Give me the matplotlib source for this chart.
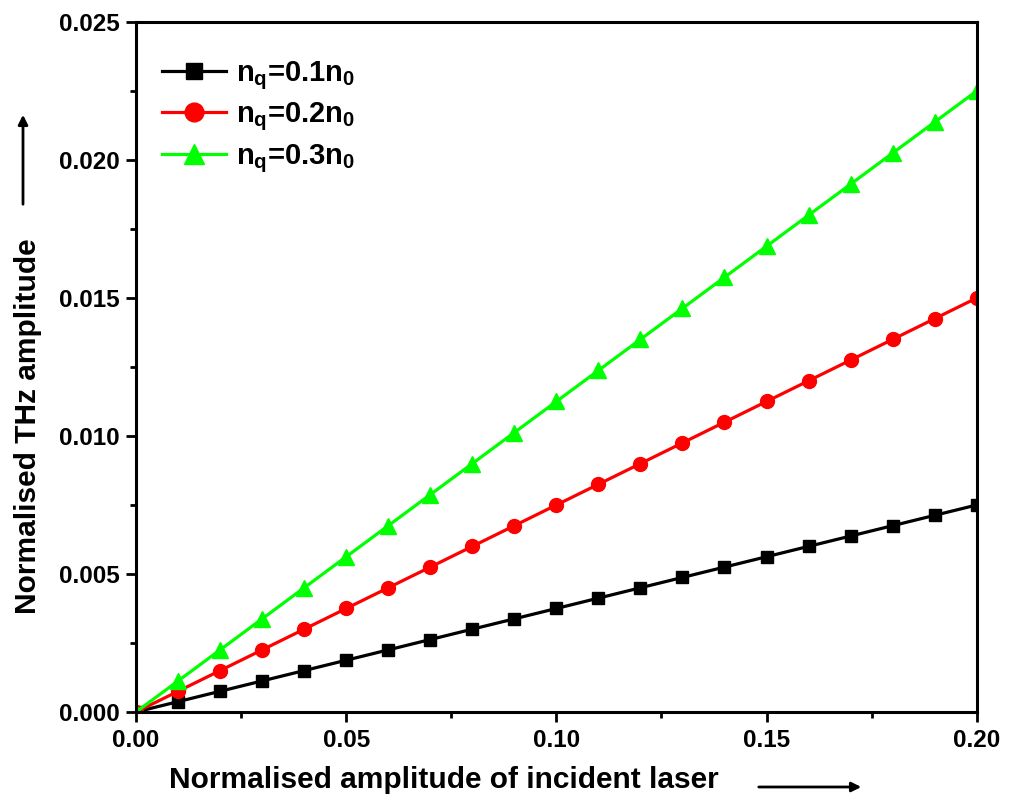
import matplotlib
matplotlib.use("Agg")
import matplotlib.pyplot as plt

# ---- data ----
x = [0.00, 0.01, 0.02, 0.03, 0.04, 0.05, 0.06, 0.07, 0.08, 0.09, 0.10,
     0.11, 0.12, 0.13, 0.14, 0.15, 0.16, 0.17, 0.18, 0.19, 0.20]
y_01 = [0.0, 0.000375, 0.00075, 0.001125, 0.0015, 0.001875, 0.00225, 0.002625,
        0.003, 0.003375, 0.00375, 0.004125, 0.0045, 0.004875, 0.00525, 0.005625,
        0.006, 0.006375, 0.00675, 0.007125, 0.0075]
y_02 = [0.0, 0.00075, 0.0015, 0.00225, 0.003, 0.00375, 0.0045, 0.00525,
        0.006, 0.00675, 0.0075, 0.00825, 0.009, 0.00975, 0.0105, 0.01125,
        0.012, 0.01275, 0.0135, 0.01425, 0.015]
y_03 = [0.0, 0.001125, 0.00225, 0.003375, 0.0045, 0.005625, 0.00675, 0.007875,
        0.009, 0.010125, 0.01125, 0.012375, 0.0135, 0.014625, 0.01575, 0.016875,
        0.018, 0.019125, 0.02025, 0.021375, 0.0225]
labels = [r"$n_q$=0.1$n_0$", r"$n_q$=0.2$n_0$", r"$n_q$=0.3$n_0$"]
x_ticks = [0.00, 0.05, 0.10, 0.15, 0.20]
y_ticks = [0.000, 0.005, 0.010, 0.015, 0.020, 0.025]

plt.rcParams["font.family"] = ["Liberation Sans", "DejaVu Sans"]
plt.rcParams["font.weight"] = "bold"
plt.rcParams["mathtext.fontset"] = "custom"
plt.rcParams["mathtext.rm"] = "Liberation Sans:bold"
plt.rcParams["mathtext.it"] = "Liberation Sans:bold"
plt.rcParams["mathtext.bf"] = "Liberation Sans:bold"

fig = plt.figure(figsize=(10.1, 7.98), dpi=100)
ax = fig.add_axes([0.1347, 0.1078, 0.8323, 0.8646])

ax.plot(x, y_01, color="black", marker="s", ms=9, lw=2.3, label=labels[0])
ax.plot(x, y_02, color="red", marker="o", ms=10, lw=2.3, label=labels[1])
ax.plot(x, y_03, color="#00ff00", marker="^", ms=11, lw=2.3, label=labels[2])

ax.set_xlim(0, 0.2)
ax.set_ylim(0, 0.025)
ax.set_xticks(x_ticks)
ax.set_yticks(y_ticks)
ax.set_xticklabels([f"{v:.2f}" for v in x_ticks])
ax.set_yticklabels([f"{v:.3f}" for v in y_ticks])
ax.set_xticks([0.025, 0.075, 0.125, 0.175], minor=True)
ax.set_yticks([0.0025, 0.0075, 0.0125, 0.0175, 0.0225], minor=True)
ax.tick_params(which="major", direction="out", length=7, width=2, labelsize=17.5, pad=5)
ax.tick_params(which="minor", direction="out", length=4, width=2)
for s in ax.spines.values():
    s.set_linewidth(2.2)

ax.set_xlabel("Normalised amplitude of incident laser", fontsize=21.5, fontweight="bold",
              x=0.366, labelpad=10)
ax.set_ylabel("Normalised THz amplitude", fontsize=21.5, fontweight="bold",
              y=0.414, labelpad=12)

ax.legend(loc="upper left", frameon=False, fontsize=21, handlelength=2.2,
          borderaxespad=0.6, labelspacing=0.3, handletextpad=0.35, markerscale=1.35,
          bbox_to_anchor=(-0.004, 0.989))

# arrows next to the axis titles
fig.add_artist(matplotlib.patches.FancyArrowPatch(
    (23 / 1010, 1 - 207 / 798), (23 / 1010, 1 - 112 / 798),
    transform=fig.transFigure, arrowstyle="-|>", mutation_scale=14, lw=2, color="black"))
fig.add_artist(matplotlib.patches.FancyArrowPatch(
    (756 / 1010, 1 - 787 / 798), (864 / 1010, 1 - 787 / 798),
    transform=fig.transFigure, arrowstyle="-|>", mutation_scale=14, lw=2, color="black"))

fig.savefig("out.png", dpi=100)
